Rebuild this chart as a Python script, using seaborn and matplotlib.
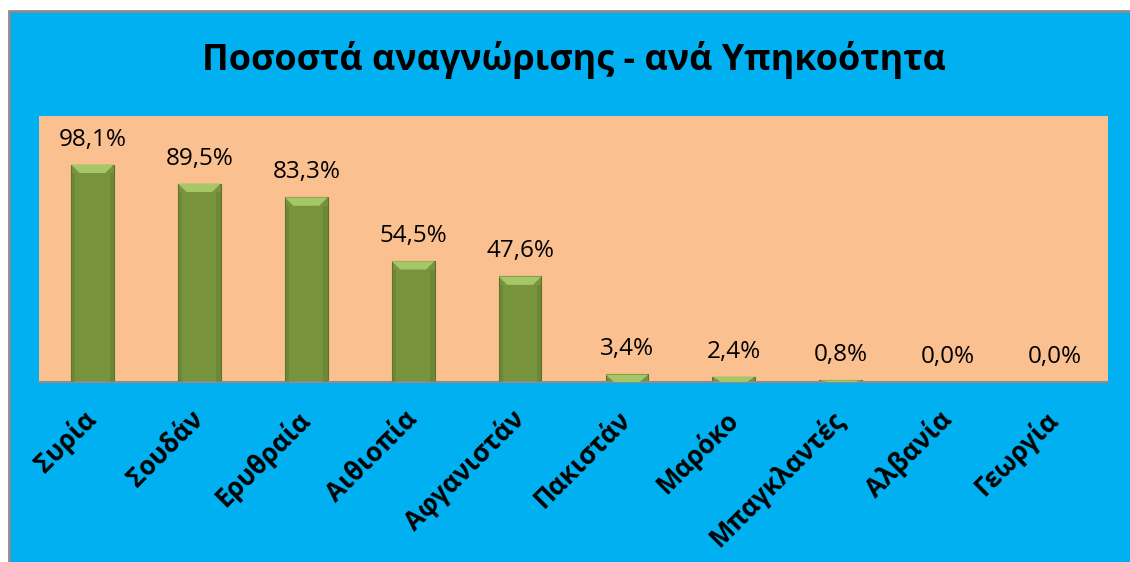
import matplotlib
matplotlib.use("Agg")
import matplotlib.pyplot as plt
import seaborn as sns
import pandas as pd
from matplotlib.patches import Rectangle, Polygon

countries = ["Συρία", "Σουδάν", "Ερυθραία", "Αιθιοπία", "Αφγανιστάν",
             "Πακιστάν", "Μαρόκο", "Μπαγκλαντές", "Αλβανία", "Γεωργία"]
rates = [98.1, 89.5, 83.3, 54.5, 47.6, 3.4, 2.4, 0.8, 0.0, 0.0]
title = "Ποσοστά αναγνώρισης - ανά Υπηκοότητα"

sns.set_theme(style="white")
plt.rcParams['font.family'] = ['Open Sans', 'DejaVu Sans']

BLUE = "#00B0F0"
PEACH = "#FAC090"
BAR = "#77933C"

W, H = 1130, 562
fig = plt.figure(figsize=(W / 100, H / 100), dpi=100)
fig.patch.set_facecolor("white")
# blue chart area with gray border
fig.patches.append(Rectangle((9 / W, -0.1), 1.1, (H - 11) / H + 0.1, transform=fig.transFigure,
                             facecolor=BLUE, edgecolor="#8C8C8C", linewidth=2.0, zorder=-5))

ax = fig.add_axes([39 / W, (H - 382) / H, (1108 - 39) / W, (382 - 116) / H])
ax.set_zorder(2)
df = pd.DataFrame({"country": countries, "rate": rates})
sns.barplot(data=df, x="country", y="rate", color=BAR, width=0.4, ax=ax,
            edgecolor="#5A7230", linewidth=0.8, saturation=1)
ax.set_facecolor(PEACH)
ax.set_xlim(-0.5, len(countries) - 0.5)
ax.set_ylim(0, 120)
ax.set_yticks([])
ax.set_xlabel("")
ax.set_ylabel("")
for s in ["top", "right", "left"]:
    ax.spines[s].set_visible(False)
ax.spines["bottom"].set_color("#8C8C8C")
ax.spines["bottom"].set_linewidth(1.5)

# bevel highlight on bar tops
for p in list(ax.patches):
    x0, w, h = p.get_x(), p.get_width(), p.get_height()
    if h <= 0:
        continue
    cap = min(3.8, h)
    inset = w * 0.2
    poly = Polygon([(x0, h), (x0 + w, h), (x0 + w - inset, h - cap), (x0 + inset, h - cap)],
                   closed=True, facecolor="#A6C765", edgecolor="none", zorder=3)
    ax.add_patch(poly)
    ax.add_patch(Rectangle((x0, 0), w * 0.1, max(h - cap, 0), facecolor="#5F7A2E",
                           edgecolor="none", zorder=3, alpha=0.45))
    ax.add_patch(Rectangle((x0 + w * 0.9, 0), w * 0.1, max(h - cap, 0), facecolor="#5F7A2E",
                           edgecolor="none", zorder=3, alpha=0.45))

for i, v in enumerate(rates):
    ax.annotate(f"{v:.1f}%".replace(".", ","), (i, v), xytext=(0, 19),
                textcoords="offset pixels", ha="center", va="baseline",
                fontsize=17.5, color="black")

ax.tick_params(axis="x", length=0, pad=24)
for lab in ax.get_xticklabels():
    lab.set_rotation(45)
    lab.set_ha("right")
    lab.set_va("center")
    lab.set_rotation_mode("anchor")
    lab.set_fontweight("bold")
    lab.set_fontsize(18.5)
    lab.set_color("black")

fig.text(574 / W, 1 - 60 / H, title, ha="center", va="center",
         fontsize=25.8, fontweight="bold", color="black")

fig.savefig("out.png", dpi=100, facecolor=fig.get_facecolor())
